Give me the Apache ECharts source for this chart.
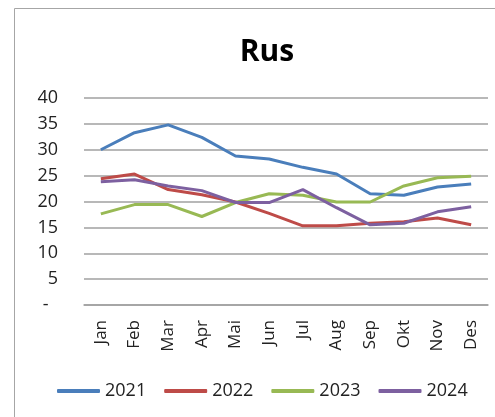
<!DOCTYPE html>
<html>
<head>
<meta charset="utf-8">
<script src="https://cdn.jsdelivr.net/npm/echarts@6/dist/echarts.min.js"></script>
<style>
  html, body { margin: 0; padding: 0; background: #fff; }
  #main { width: 495px; height: 417px; }
</style>
</head>
<body>
<div id="main"></div>
<script>
var months = ['Jan', 'Feb', 'Mar', 'Apr', 'Mai', 'Jun', 'Jul', 'Aug', 'Sep', 'Okt', 'Nov', 'Des'];
var years = ['2021', '2022', '2023', '2024'];
var y2021 = [30.0, 33.3, 34.8, 32.4, 28.8, 28.2, 26.6, 25.3, 21.5, 21.2, 22.8, 23.4];
var y2022 = [24.4, 25.3, 22.3, 21.3, 19.9, 17.7, 15.3, 15.3, 15.8, 16.1, 16.8, 15.5];
var y2023 = [17.6, 19.4, 19.4, 17.1, 19.8, 21.5, 21.2, 19.9, 19.9, 23.0, 24.6, 24.9];
var y2024 = [23.8, 24.2, 23.0, 22.1, 19.8, 19.8, 22.3, 18.8, 15.5, 15.8, 18.0, 19.0];
var colors = ['#4a7ebb', '#be4b48', '#98b954', '#7d60a0'];

var chart = echarts.init(document.getElementById('main'));
var font = '"Open Sans", "Liberation Sans", sans-serif';

function mkSeries(name, data, i) {
  return {
    name: name,
    type: 'line',
    data: data,
    symbol: 'none',
    smooth: false,
    lineStyle: { width: 3, color: colors[i] },
    itemStyle: { color: colors[i] }
  };
}

chart.setOption({
  animation: false,
  textStyle: { fontFamily: font },
  title: {
    text: 'Rus',
    left: 262,
    top: 32,
    textAlign: 'center',
    textStyle: { fontSize: 30, fontWeight: 'bold', color: '#000', fontFamily: font }
  },
  graphic: [{
    type: 'rect',
    shape: { x: 14.5, y: 8.5, width: 500, height: 440 },
    style: { fill: 'none', stroke: '#a6a6a6', lineWidth: 1 },
    silent: true
  }],
  legend: {
    data: years,
    left: 52,
    top: 377,
    icon: 'roundRect',
    itemWidth: 43,
    itemHeight: 4,
    itemGap: 18,
    textStyle: { fontSize: 18, color: '#222', fontFamily: font }
  },
  grid: { left: 84, top: 98, width: 404, height: 207, containLabel: false },
  xAxis: {
    type: 'category',
    data: months,
    boundaryGap: true,
    axisTick: { show: false },
    axisLine: { lineStyle: { color: '#a0a0a0', width: 1.5 } },
    axisLabel: { rotate: 90, margin: 15, fontSize: 17, color: '#222', fontFamily: font, interval: 0 }
  },
  yAxis: {
    type: 'value',
    min: 0,
    max: 40,
    interval: 5,
    axisLine: { show: false },
    axisTick: { show: false },
    splitLine: { lineStyle: { color: '#a0a0a0', width: 1.5 } },
    axisLabel: {
      margin: 26,
      fontSize: 18,
      color: '#222',
      fontFamily: font,
      formatter: function (v) { return v === 0 ? '-  ' : String(v); }
    }
  },
  series: [
    mkSeries(years[0], y2021, 0),
    mkSeries(years[1], y2022, 1),
    mkSeries(years[2], y2023, 2),
    mkSeries(years[3], y2024, 3)
  ]
});
</script>
</body>
</html>
